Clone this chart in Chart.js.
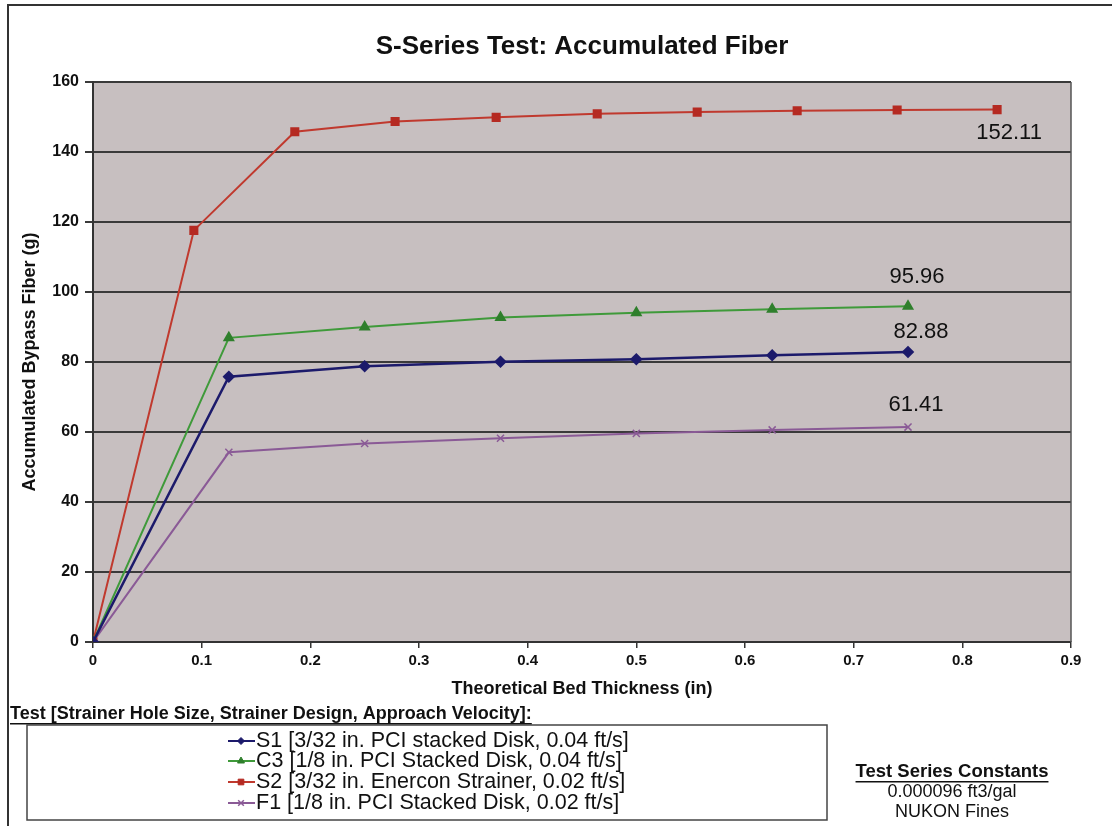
<!DOCTYPE html>
<html>
<head>
<meta charset="utf-8">
<title>S-Series Test: Accumulated Fiber</title>
<script src="https://cdn.jsdelivr.net/npm/chart.js@4.4.1/dist/chart.umd.min.js"></script>
<style>
  html, body { margin: 0; padding: 0; background: #ffffff; }
  #wrap { width: 1112px; height: 826px; }
</style>
</head>
<body>
<div id="wrap"><canvas id="fiberChart" width="1112" height="826"></canvas></div>
<script>
// --- data ---
const thicknessPCI = [0, 0.125, 0.25, 0.375, 0.5, 0.625, 0.75];
const fiberS1 = [0, 75.8, 78.8, 80.1, 80.8, 81.9, 82.88];
const fiberC3 = [0, 86.9, 90.0, 92.7, 94.1, 95.1, 95.96];
const fiberF1 = [0, 54.2, 56.7, 58.2, 59.6, 60.6, 61.41];

const thicknessS2 = [0, 0.0928, 0.1857, 0.278, 0.371, 0.464, 0.556, 0.648, 0.740, 0.832];
const fiberS2 = [0, 117.6, 145.8, 148.7, 149.9, 150.9, 151.4, 151.8, 152.0, 152.11];

const seriesNames = [
    'S1 [3/32 in. PCI stacked Disk, 0.04 ft/s]',
    'C3 [1/8 in. PCI Stacked Disk, 0.04 ft/s]',
    'S2 [3/32 in. Enercon Strainer, 0.02 ft/s]',
    'F1 [1/8 in. PCI Stacked Disk, 0.02 ft/s]'
];
const xTickValues = [0, 0.1, 0.2, 0.3, 0.4, 0.5, 0.6, 0.7, 0.8, 0.9];
const yTickValues = [0, 20, 40, 60, 80, 100, 120, 140, 160];

const chartTitle = 'S-Series Test: Accumulated Fiber';
const xTitle = 'Theoretical Bed Thickness (in)';
const yTitle = 'Accumulated Bypass Fiber (g)';
const legendTitle = 'Test [Strainer Hole Size, Strainer Design, Approach Velocity]:';
const constantsTitle = 'Test Series Constants';
const constantsLines = ['0.000096 ft3/gal', 'NUKON Fines'];

const FONT = '"Liberation Sans", Arial, Helvetica, sans-serif';

const toPoints = (xs, ys) => xs.map((x, i) => ({ x, y: ys[i] }));

// end-of-series value labels: offset from the last point
const endLabels = [
    { dx: 13, dy: -20 },
    { dx: 9, dy: -29 },
    { dx: 12, dy: 23 },
    { dx: 8, dy: -22 }
];

const datasets = [
    { label: seriesNames[0], data: toPoints(thicknessPCI, fiberS1), borderColor: '#1c1a6b', backgroundColor: '#1c1a6b',
      borderWidth: 2.5, pointStyle: 'rectRot', pointRadius: 4.5 },
    { label: seriesNames[1], data: toPoints(thicknessPCI, fiberC3), borderColor: '#3f9a3a', backgroundColor: '#2f7f2c',
      borderWidth: 2, pointStyle: 'triangle', pointRadius: 5 },
    { label: seriesNames[2], data: toPoints(thicknessS2, fiberS2), borderColor: '#c0392e', backgroundColor: '#b52a22',
      borderWidth: 2, pointStyle: 'rect', pointRadius: 5 },
    { label: seriesNames[3], data: toPoints(thicknessPCI, fiberF1), borderColor: '#8a5a96', backgroundColor: '#8a5a96',
      borderWidth: 2, pointStyle: 'crossRot', pointRadius: 5, pointBorderWidth: 1.5 }
];
datasets.forEach(d => {
    d.showLine = true;
    d.tension = 0;
    d.pointBorderColor = d.pointStyle === 'crossRot' ? d.borderColor : d.backgroundColor;
    d.pointHoverRadius = d.pointRadius;
});

// --- plot decorations: background, frame, labels, legend, notes ---
const decorPlugin = {
    id: 'decor',
    beforeDraw(chart) {
        const { ctx, chartArea: a } = chart;
        ctx.save();
        ctx.fillStyle = '#ffffff';
        ctx.fillRect(0, 0, chart.width, chart.height);
        ctx.fillStyle = '#c7bfc0';
        ctx.fillRect(a.left, a.top, a.right - a.left, a.bottom - a.top);
        ctx.restore();
    },
    afterDraw(chart) {
        const { ctx, chartArea: a } = chart;
        ctx.save();

        // plot border on the right side
        ctx.strokeStyle = '#555';
        ctx.lineWidth = 1.5;
        ctx.beginPath();
        ctx.moveTo(a.right, a.top);
        ctx.lineTo(a.right, a.bottom);
        ctx.stroke();

        // outer frame (top and left)
        ctx.strokeStyle = '#333';
        ctx.lineWidth = 2;
        ctx.beginPath();
        ctx.moveTo(8, chart.height);
        ctx.lineTo(8, 5);
        ctx.lineTo(chart.width, 5);
        ctx.stroke();

        // chart title
        ctx.fillStyle = '#111';
        ctx.textAlign = 'center';
        ctx.textBaseline = 'middle';
        ctx.font = 'bold 26px ' + FONT;
        ctx.fillText(chartTitle, 582, 47);

        // value at the end of each series
        ctx.font = '22px ' + FONT;
        chart.data.datasets.forEach((ds, i) => {
            const meta = chart.getDatasetMeta(i);
            const last = meta.data[meta.data.length - 1];
            const val = ds.data[ds.data.length - 1].y;
            ctx.fillText(val.toFixed(2), last.x + endLabels[i].dx, last.y + endLabels[i].dy);
        });

        // legend title (underlined)
        ctx.textAlign = 'left';
        ctx.font = 'bold 18px ' + FONT;
        ctx.fillText(legendTitle, 10, 714);
        const lw = ctx.measureText(legendTitle).width;
        ctx.fillRect(10, 723, lw, 1.5);

        // legend box
        ctx.strokeStyle = '#444';
        ctx.lineWidth = 1.5;
        ctx.strokeRect(27, 725, 800, 95);

        const rowY = [741, 761, 782, 803];
        ctx.font = '21.5px ' + FONT;
        chart.data.datasets.forEach((ds, i) => {
            const y = rowY[i];
            ctx.strokeStyle = ds.borderColor;
            ctx.lineWidth = 2;
            ctx.beginPath();
            ctx.moveTo(228, y);
            ctx.lineTo(255, y);
            ctx.stroke();
            ctx.fillStyle = ds.backgroundColor;
            ctx.strokeStyle = ds.pointBorderColor;
            ctx.lineWidth = ds.pointBorderWidth || 1;
            Chart.helpers.drawPoint(ctx, { pointStyle: ds.pointStyle, radius: ds.pointRadius - 1, borderWidth: ctx.lineWidth, rotation: 0 }, 241, y);
            ctx.fillStyle = '#111';
            ctx.fillText(ds.label, 256, y);
        });

        // constants note
        ctx.textAlign = 'center';
        ctx.font = 'bold 18.5px ' + FONT;
        ctx.fillText(constantsTitle, 952, 772);
        const cw = ctx.measureText(constantsTitle).width;
        ctx.fillRect(952 - cw / 2, 781, cw, 1.5);
        ctx.font = '18px ' + FONT;
        ctx.fillText(constantsLines[0], 952, 792);
        ctx.fillText(constantsLines[1], 952, 812);

        ctx.restore();
    }
};

new Chart(document.getElementById('fiberChart'), {
    type: 'scatter',
    data: { datasets },
    plugins: [decorPlugin],
    options: {
        responsive: false,
        animation: false,
        events: [],
        layout: { padding: { left: 0, top: 82, right: 41, bottom: 124 } },
        plugins: {
            legend: { display: false },
            title: { display: false },
            tooltip: { enabled: false }
        },
        scales: {
            x: {
                type: 'linear',
                min: 0,
                max: 0.9,
                afterFit: s => { s.height = 60; },
                afterBuildTicks: s => { s.ticks = xTickValues.map(v => ({ value: v })); },
                ticks: {
                    color: '#111',
                    padding: 4,
                    font: { family: FONT, size: 15, weight: 'bold' },
                    callback: v => String(+v.toFixed(1))
                },
                grid: { drawOnChartArea: false, color: '#333', tickLength: 6, lineWidth: 1.5 },
                border: { color: '#333', width: 2 },
                title: {
                    display: true,
                    text: xTitle,
                    color: '#111',
                    font: { family: FONT, size: 18, weight: 'bold' },
                    padding: { top: 0, bottom: 2 }
                }
            },
            y: {
                type: 'linear',
                min: 0,
                max: 160,
                afterFit: s => { s.width = 93; },
                afterBuildTicks: s => { s.ticks = yTickValues.map(v => ({ value: v })); },
                ticks: {
                    color: '#111',
                    padding: 6,
                    font: { family: FONT, size: 16, weight: 'bold' }
                },
                grid: { color: '#3a3a3a', lineWidth: 2, tickLength: 8 },
                border: { color: '#333', width: 2 },
                title: {
                    display: true,
                    text: yTitle,
                    color: '#111',
                    font: { family: FONT, size: 18, weight: 'bold' },
                    padding: { top: 19, bottom: 0 }
                }
            }
        }
    }
});
</script>
</body>
</html>
